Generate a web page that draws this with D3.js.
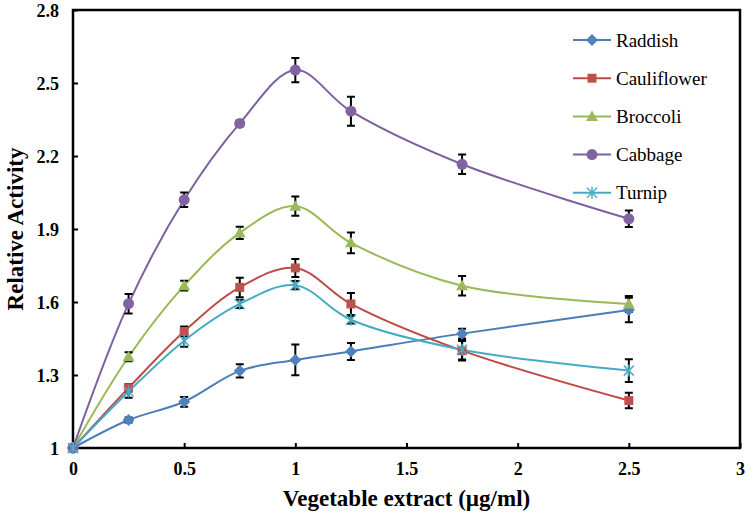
<!DOCTYPE html>
<html>
<head>
<meta charset="utf-8">
<script src="https://cdn.jsdelivr.net/npm/d3@7"></script>
<style>
  html, body { margin: 0; padding: 0; background: #fff; }
  svg { display: block; }
</style>
</head>
<body>
<svg id="chart" width="750" height="519"></svg>
<script>
// ---- Data ----
const xValues = [0, 0.25, 0.5, 0.75, 1, 1.25, 1.75, 2.5];
const seriesNames = ["Raddish", "Cauliflower", "Broccoli", "Cabbage", "Turnip"];
const raddish     = [1, 1.115, 1.19, 1.317, 1.362, 1.397, 1.47, 1.567];
const raddishErr  = [0, 0.01, 0.02, 0.027, 0.063, 0.035, 0.02, 0.05];
const cauliflower    = [1, 1.247, 1.479, 1.66, 1.74, 1.592, 1.40, 1.195];
const cauliflowerErr = [0, 0.015, 0.02, 0.04, 0.037, 0.045, 0.04, 0.032];
const broccoli    = [1, 1.375, 1.667, 1.884, 1.994, 1.843, 1.667, 1.592];
const broccoliErr = [0, 0.018, 0.02, 0.025, 0.04, 0.043, 0.04, 0.033];
const cabbage     = [1, 1.593, 2.02, 2.334, 2.553, 2.384, 2.166, 1.942];
const cabbageErr  = [0, 0.04, 0.03, 0.012, 0.05, 0.06, 0.04, 0.034];
const turnip      = [1, 1.232, 1.441, 1.592, 1.669, 1.527, 1.404, 1.318];
const turnipErr   = [0, 0.025, 0.025, 0.017, 0.017, 0.015, 0.04, 0.047];
const xTicks = [0, 0.5, 1, 1.5, 2, 2.5, 3];
const yTicks = [1, 1.3, 1.6, 1.9, 2.2, 2.5, 2.8];
const xTitle = "Vegetable extract (µg/ml)";
const yTitle = "Relative Activity";

// ---- Styles ----
const lineColors   = ["#4A7EBB", "#BE4B48", "#98B954", "#7D60A0", "#46AAC5"];
const markerColors = ["#4F81BD", "#C0504D", "#9BBB59", "#8064A2", "#4BACC6"];
const markerTypes  = ["diamond", "square", "triangle", "circle", "asterisk"];
const allValues = [raddish, cauliflower, broccoli, cabbage, turnip];
const allErrs   = [raddishErr, cauliflowerErr, broccoliErr, cabbageErr, turnipErr];

const series = seriesNames.map((name, i) => ({
  name, color: lineColors[i], mcolor: markerColors[i], marker: markerTypes[i],
  points: xValues.map((x, j) => ({ x, y: allValues[i][j], e: allErrs[i][j] }))
}));

const W = 750, H = 519;
const margin = { left: 73, top: 10, right: 10, bottom: 71 };
const svg = d3.select("#chart");
const x = d3.scaleLinear().domain([0, 3]).range([margin.left, W - margin.right]);
const y = d3.scaleLinear().domain([1, 2.8]).range([H - margin.bottom, margin.top]);
const font = "'Liberation Serif', 'Times New Roman', serif";

// Axes
const fmt = d => d3.format("")(d);
const xAxis = d3.axisBottom(x).tickValues(xTicks).tickSize(-5).tickPadding(14).tickFormat(fmt);
const yAxis = d3.axisLeft(y).tickValues(yTicks).tickSize(-5).tickPadding(14).tickFormat(fmt);

const gx = svg.append("g").attr("transform", `translate(0,${H - margin.bottom})`).call(xAxis);
const gy = svg.append("g").attr("transform", `translate(${margin.left},0)`).call(yAxis);
[gx, gy].forEach(g => {
  g.select(".domain").remove();
  g.selectAll(".tick line").attr("stroke", "#000").attr("stroke-width", 2);
  g.selectAll(".tick text").attr("fill", "#000").attr("font-family", font)
    .attr("font-weight", "bold").attr("font-size", 18);
});
gy.selectAll(".tick text").attr("dy", "0.35em");
gx.selectAll(".tick text").attr("dy", "0.71em");

// Plot frame
svg.append("rect")
  .attr("x", x(0)).attr("y", y(2.8))
  .attr("width", x(3) - x(0)).attr("height", y(1) - y(2.8))
  .attr("fill", "none").attr("stroke", "#000").attr("stroke-width", 2.5);

// Axis titles
svg.append("text").attr("x", (x(0) + x(3)) / 2).attr("y", 506)
  .attr("text-anchor", "middle").attr("font-family", font).attr("font-weight", "bold")
  .attr("font-size", 23).attr("fill", "#000").text(xTitle);
svg.append("text").attr("transform", `translate(23,${(y(1) + y(2.8)) / 2}) rotate(-90)`)
  .attr("text-anchor", "middle").attr("font-family", font).attr("font-weight", "bold")
  .attr("font-size", 23).attr("fill", "#000").text(yTitle);

// Lines
const line = d3.line().x(d => x(d.x)).y(d => y(d.y)).curve(d3.curveCatmullRom.alpha(0.5));
series.forEach(s => {
  svg.append("path").datum(s.points).attr("d", line)
    .attr("fill", "none").attr("stroke", s.color).attr("stroke-width", 2);
});

// Markers
function drawMarker(g, type, color, cx, cy) {
  if (type === "circle") {
    g.append("circle").attr("cx", cx).attr("cy", cy).attr("r", 5.5).attr("fill", color);
  } else if (type === "square") {
    g.append("rect").attr("x", cx - 4.5).attr("y", cy - 4.5).attr("width", 9).attr("height", 9).attr("fill", color);
  } else if (type === "diamond") {
    g.append("path").attr("d", `M${cx},${cy - 6}L${cx + 6},${cy}L${cx},${cy + 6}L${cx - 6},${cy}Z`).attr("fill", color);
  } else if (type === "triangle") {
    g.append("path").attr("d", `M${cx},${cy - 6}L${cx + 6},${cy + 4.5}L${cx - 6},${cy + 4.5}Z`).attr("fill", color);
  } else if (type === "asterisk") {
    const r = 5;
    g.append("path").attr("d",
      `M${cx - r},${cy - r}L${cx + r},${cy + r}M${cx - r},${cy + r}L${cx + r},${cy - r}M${cx},${cy - r - 1}L${cx},${cy + r + 1}`)
      .attr("stroke", color).attr("stroke-width", 1.5).attr("fill", "none");
  }
}

// Error bars (drawn after lines, before/with markers)
series.forEach(s => {
  const g = svg.append("g");
  s.points.forEach(p => {
    if (p.e > 0) {
      const cx = x(p.x), y1 = y(p.y + p.e), y2 = y(p.y - p.e);
      g.append("path").attr("d", `M${cx},${y1}L${cx},${y2}M${cx - 4},${y1}L${cx + 4},${y1}M${cx - 4},${y2}L${cx + 4},${y2}`)
        .attr("stroke", "#000").attr("stroke-width", 2).attr("fill", "none");
    }
  });
});
series.forEach(s => {
  const g = svg.append("g");
  s.points.forEach(p => drawMarker(g, s.marker, s.mcolor, x(p.x), y(p.y)));
});

// Legend
const legendX = 573, legendY0 = 40, legendStep = 38.2;
series.forEach((s, i) => {
  const ly = legendY0 + i * legendStep;
  const g = svg.append("g");
  g.append("line").attr("x1", legendX).attr("x2", legendX + 38).attr("y1", ly).attr("y2", ly)
    .attr("stroke", s.color).attr("stroke-width", 2);
  drawMarker(g, s.marker, s.mcolor, legendX + 19, ly);
  g.append("text").attr("x", legendX + 43).attr("y", ly).attr("dy", "0.35em")
    .attr("font-family", font).attr("font-size", 19).attr("fill", "#000").text(s.name);
});
</script>
</body>
</html>
